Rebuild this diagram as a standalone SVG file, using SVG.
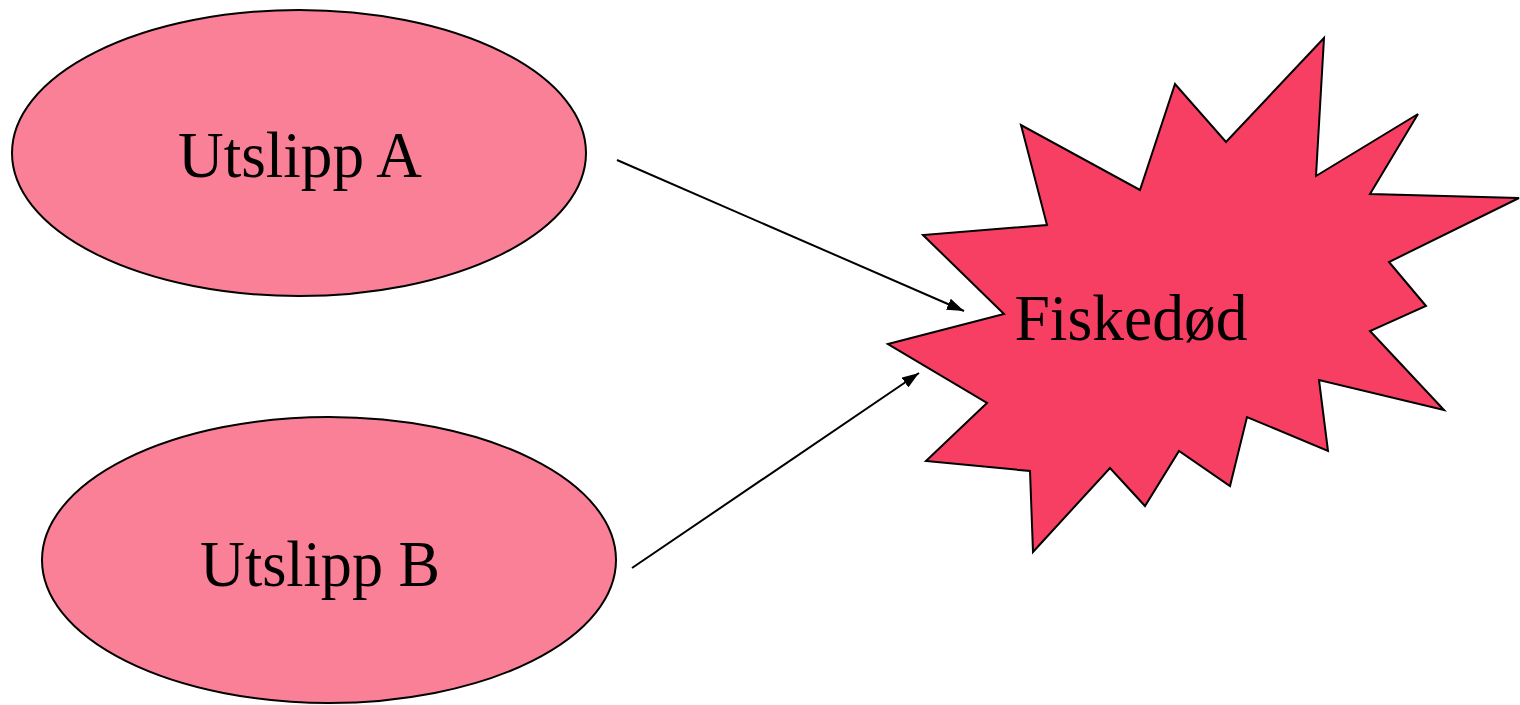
<svg xmlns="http://www.w3.org/2000/svg" width="1520" height="705" viewBox="0 0 1520 705">
<style>
.node{stroke:#000;stroke-width:2}
.ell{fill:#F98096}
.burst{fill:#F73F63;stroke-linejoin:miter}
.lbl{font-family:"Liberation Serif","Times New Roman",serif;font-size:66px;fill:#000;text-anchor:middle}
.conn{stroke:#000;stroke-width:2;fill:none}
</style>
<defs>
<marker id="arr" viewBox="0 0 16 12" refX="16" refY="6" markerWidth="17" markerHeight="12" markerUnits="userSpaceOnUse" orient="auto" preserveAspectRatio="none">
<path d="M0,0 L16,6 L0,12 z" fill="#000"/>
</marker>
</defs>
<rect width="1520" height="705" fill="#fff"/>
<g id="utslipp-a">
<ellipse class="node ell" cx="299" cy="153" rx="287" ry="143"/>
<text class="lbl" x="300" y="177" textLength="244" lengthAdjust="spacingAndGlyphs">Utslipp A</text>
</g>
<g id="utslipp-b">
<ellipse class="node ell" cx="329" cy="560" rx="287" ry="143"/>
<text class="lbl" x="320" y="586" textLength="240" lengthAdjust="spacingAndGlyphs">Utslipp B</text>
</g>
<g id="fiskedod">
<polygon class="node burst" points="888,344 1004,314 923,235 1047,225 1021,125 1140,190 1175,84 1226,142 1324,38 1316,176 1418,114 1370,194 1519,198 1389,262 1426,306 1370,331 1444,410 1319,380 1328,451 1247,417 1230,486 1179,451 1145,506 1110,468 1033,552 1030,471 926,461 987,403"/>
<text class="lbl" x="1131" y="340" textLength="233" lengthAdjust="spacingAndGlyphs">Fiskedød</text>
</g>
<g id="connectors">
<line class="conn" x1="617" y1="160" x2="964" y2="311" style="marker-end:url(#arr)"/>
<line class="conn" x1="632" y1="568" x2="919" y2="373" style="marker-end:url(#arr)"/>
</g>
</svg>
